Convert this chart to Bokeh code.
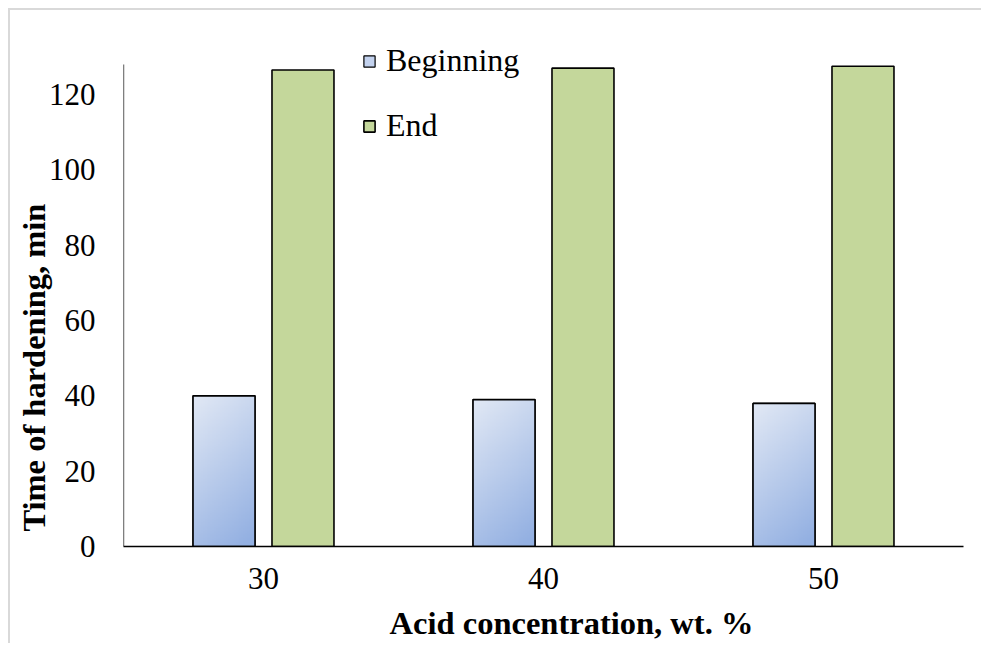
import numpy as np
from bokeh.plotting import figure
from bokeh.models import Range1d, FixedTicker, LinearAxis, Legend, LegendItem
from bokeh.embed import file_html
from bokeh.resources import INLINE

# ---- data ----
concentrations = ["30", "40", "50"]
beginning = [40, 39, 38]
end = [126.5, 127, 127.5]
y_ticks = [0, 20, 40, 60, 80, 100, 120]
y_axis_max = 128
y_title = "Time of hardening, min"
x_title = "Acid concentration, wt. %"

FONT = "Liberation Serif"
GREEN = "#c4d79b"
BLUE_MID = "#c3d2ee"

p = figure(width=973, height=635, output_backend="svg", toolbar_location=None,
           x_range=Range1d(0, 3), y_range=Range1d(0, 137),
           min_border_left=113, min_border_right=20, min_border_top=20, min_border_bottom=99,
           styles={"margin-left": "8px", "margin-top": "8px",
                   "border-left": "2px solid #d9d9d9", "border-top": "2px solid #d9d9d9"})
p.outline_line_color = None
p.xgrid.grid_line_color = None
p.ygrid.grid_line_color = None
p.background_fill_color = "white"
p.border_fill_color = "white"

centers = [i + 0.5 for i in range(len(concentrations))]
bw = 0.2214
off = 0.141
xb = [c - off for c in centers]
xe = [c + off for c in centers]

# y axis line (only up to the axis maximum)
p.segment(x0=[0], y0=[0], x1=[0], y1=[y_axis_max], line_color="black", line_width=1.3)

# Beginning bars: base fill (for legend), gradient image, outline
r_beg = p.vbar(x=xb, top=beginning, width=bw, bottom=0, fill_color=BLUE_MID,
               line_color="black", line_width=1.2)

N, M = 128, 32
top_col = np.array([222, 230, 244], dtype=float)
bot_col = np.array([147, 176, 226], dtype=float)
rows = np.arange(N)[:, None] / (N - 1)       # 0 bottom -> 1 top
cols = np.arange(M)[None, :] / (M - 1)       # 0 left -> 1 right
t = np.clip(0.8 * (1 - rows) + 0.3 * cols - 0.05, 0, 1)
img = np.empty((N, M), dtype=np.uint32)
view = img.view(dtype=np.uint8).reshape((N, M, 4))
for k in range(3):
    view[:, :, k] = (top_col[k] + (bot_col[k] - top_col[k]) * t).astype(np.uint8)
view[:, :, 3] = 255
for x0, h in zip(xb, beginning):
    p.image_rgba(image=[img], x=x0 - bw / 2, y=0, dw=bw, dh=h)

p.vbar(x=xb, top=beginning, width=bw, bottom=0, fill_alpha=0,
       line_color="black", line_width=1.6)

r_end = p.vbar(x=xe, top=end, width=bw, bottom=0, fill_color=GREEN,
               line_color="black", line_width=1.6)

# axes
xa = p.xaxis[0]
xa.ticker = FixedTicker(ticks=centers)
xa.major_label_overrides = {c: lab for c, lab in zip(centers, concentrations)}
xa.major_tick_line_color = None
xa.minor_tick_line_color = None
xa.axis_line_color = "black"
xa.axis_line_width = 1.3
xa.major_label_text_font = FONT
xa.major_label_text_font_size = "31px"
xa.major_label_text_color = "black"
xa.major_label_standoff = 15

ya = p.yaxis[0]
ya.ticker = FixedTicker(ticks=y_ticks)
ya.major_tick_line_color = None
ya.minor_tick_line_color = None
ya.axis_line_color = None
ya.major_label_text_font = FONT
ya.major_label_text_font_size = "31px"
ya.major_label_text_color = "black"
ya.major_label_standoff = 22

# axis titles, placed as single tick labels of extra (line-less) axes
y_title_pos = 47.5
yt = LinearAxis(ticker=FixedTicker(ticks=[y_title_pos]),
                major_label_overrides={y_title_pos: y_title},
                major_label_orientation="vertical",
                major_label_standoff=-13,
                major_tick_line_color=None, minor_tick_line_color=None,
                axis_line_color=None,
                major_label_text_font=FONT, major_label_text_font_size="32.5px",
                major_label_text_font_style="bold", major_label_text_color="black")
p.add_layout(yt, "left")

x_title_pos = 1.6
xt = LinearAxis(ticker=FixedTicker(ticks=[x_title_pos]),
                major_label_overrides={x_title_pos: x_title},
                major_label_standoff=7,
                major_tick_line_color=None, minor_tick_line_color=None,
                axis_line_color=None,
                major_label_text_font=FONT, major_label_text_font_size="32.5px",
                major_label_text_font_style="bold", major_label_text_color="black")
p.add_layout(xt, "below")

legend = Legend(items=[LegendItem(label="Beginning", renderers=[r_beg]),
                       LegendItem(label="End", renderers=[r_end])],
                location=(239, 402))
legend.glyph_width = 14
legend.glyph_height = 14
legend.label_text_font = FONT
legend.label_text_font_size = "32px"
legend.label_text_color = "black"
legend.label_standoff = 10
legend.spacing = 28
legend.padding = 0
legend.margin = 0
legend.border_line_color = None
legend.background_fill_alpha = 0
p.add_layout(legend)

open("out.html", "w").write(file_html(p, INLINE))
